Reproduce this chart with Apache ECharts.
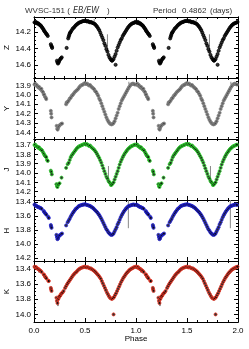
<!DOCTYPE html>
<html><head><meta charset="utf-8">
<script src="https://cdn.jsdelivr.net/npm/echarts@6/dist/echarts.min.js"></script>
<style>html,body{margin:0;padding:0;background:#fff}#c{width:249px;height:349px}</style>
</head><body><div id="c"></div>
<script>
// phase, magnitude (phase 0-1; the plot repeats each point at phase+1)
const zData=[[0.005,14.085],[0.012,14.09],[0.018,14.08],[0.025,14.095],[0.03,14.09],[0.038,14.1],[0.045,14.1],[0.05,14.11],[0.057,14.115],[0.063,14.12],[0.07,14.13],[0.075,14.14],[0.082,14.15],[0.09,14.165],[0.095,14.175],[0.1,14.19],[0.108,14.2],[0.115,14.215],[0.122,14.225],[0.128,14.235],[0.135,14.25],
[0.165,14.35],[0.17,14.37],[0.175,14.38],[0.178,14.395],
[0.225,14.55],[0.23,14.57],[0.235,14.585],[0.24,14.575],[0.245,14.56],[0.25,14.545],[0.258,14.53],[0.265,14.52],[0.272,14.51],
[0.32,14.395],[0.335,14.28],[0.34,14.26],[0.345,14.24],[0.35,14.22],[0.355,14.21],[0.36,14.2],[0.37,14.18],[0.38,14.16],[0.39,14.15],[0.4,14.135],[0.41,14.12],[0.42,14.11],[0.43,14.1],[0.44,14.09],[0.45,14.085],[0.46,14.08],[0.47,14.075],[0.48,14.07],[0.49,14.07],[0.5,14.065],[0.51,14.07],[0.52,14.075],[0.53,14.07],[0.54,14.08],[0.55,14.085],[0.56,14.08],[0.57,14.09],[0.58,14.095],[0.59,14.1],[0.6,14.11],[0.61,14.125],[0.62,14.14],[0.63,14.16],[0.64,14.18],[0.65,14.21],[0.66,14.24],[0.67,14.27],[0.68,14.3],[0.69,14.34],[0.7,14.37],[0.71,14.41],[0.72,14.44],[0.73,14.48],[0.74,14.51],[0.75,14.53],[0.76,14.545],[0.765,14.55],[0.77,14.545],[0.78,14.53],[0.79,14.5],[0.8,14.6],[0.8,14.47],[0.81,14.43],[0.82,14.39],[0.83,14.36],[0.84,14.33],[0.85,14.3],[0.86,14.28],[0.87,14.25],[0.88,14.23],[0.89,14.21],[0.9,14.19],[0.91,14.17],[0.92,14.15],[0.93,14.135],[0.94,14.12],[0.95,14.11],[0.96,14.1],[0.97,14.095],[0.98,14.09],[0.99,14.085],[0.995,14.08]];
const yData=[[0.005,13.89],[0.012,13.88],[0.02,13.9],[0.028,13.895],[0.035,13.91],[0.042,13.92],[0.05,13.915],[0.057,13.93],[0.065,13.94],[0.072,13.935],[0.08,13.96],[0.088,13.97],[0.095,13.99],[0.1,14.0],[0.108,14.02],[0.115,14.03],[0.12,14.045],
[0.165,14.17],[0.168,14.2],[0.172,14.24],
[0.222,14.33],[0.228,14.36],[0.232,14.37],[0.236,14.35],[0.24,14.34],[0.245,14.33],[0.255,14.32],[0.265,14.31],[0.275,14.305],
[0.315,14.1],[0.32,14.08],[0.33,14.075],[0.34,14.06],[0.35,14.04],[0.36,14.03],[0.37,14.01],[0.38,14.0],[0.39,13.985],[0.4,13.97],[0.41,13.96],[0.42,13.95],[0.43,13.94],[0.44,13.925],[0.45,13.91],[0.46,13.9],[0.47,13.895],[0.48,13.89],[0.49,13.88],[0.5,13.875],[0.51,13.885],[0.52,13.88],[0.53,13.89],[0.54,13.9],[0.55,13.895],[0.56,13.91],[0.57,13.92],[0.58,13.93],[0.59,13.94],[0.6,13.96],[0.61,13.97],[0.62,13.99],[0.63,14.01],[0.64,14.04],[0.65,14.06],[0.66,14.09],[0.67,14.12],[0.68,14.15],[0.69,14.18],[0.7,14.21],[0.71,14.24],[0.72,14.265],[0.73,14.285],[0.74,14.3],[0.75,14.31],[0.76,14.315],[0.77,14.31],[0.78,14.3],[0.79,14.28],[0.8,14.25],[0.81,14.22],[0.82,14.19],[0.83,14.15],[0.84,14.12],[0.85,14.09],[0.86,14.06],[0.87,14.04],[0.88,14.02],[0.89,14.0],[0.9,13.98],[0.91,13.96],[0.92,13.94],[0.93,13.92],[0.94,13.905],[0.95,13.89],[0.96,13.885],[0.97,13.88],[0.98,13.885],[0.99,13.89]];
const jData=[[0.005,13.7],[0.012,13.695],[0.02,13.71],[0.028,13.715],[0.035,13.72],[0.042,13.73],[0.05,13.725],[0.057,13.74],[0.065,13.745],[0.072,13.75],[0.08,13.76],[0.09,13.78],[0.097,13.795],[0.105,13.81],[0.112,13.82],[0.12,13.83],[0.128,13.86],[0.135,13.87],
[0.165,13.975],[0.17,13.99],[0.175,14.015],
[0.22,14.12],[0.225,14.14],[0.23,14.15],[0.235,14.13],[0.24,14.12],[0.25,14.11],
[0.27,14.05],[0.315,13.945],[0.33,13.905],[0.34,13.89],[0.35,13.86],[0.36,13.83],[0.37,13.81],[0.38,13.795],[0.39,13.78],[0.4,13.765],[0.41,13.75],[0.42,13.735],[0.43,13.725],[0.44,13.715],[0.45,13.71],[0.46,13.705],[0.47,13.7],[0.48,13.695],[0.49,13.69],[0.5,13.69],[0.51,13.695],[0.52,13.69],[0.53,13.7],[0.54,13.71],[0.55,13.705],[0.56,13.72],[0.57,13.73],[0.58,13.74],[0.59,13.75],[0.6,13.765],[0.61,13.78],[0.62,13.8],[0.63,13.82],[0.64,13.84],[0.65,13.865],[0.66,13.89],[0.67,13.92],[0.68,13.95],[0.69,13.98],[0.7,14.01],[0.71,14.04],[0.72,14.06],[0.73,14.085],[0.74,14.1],[0.75,14.115],[0.755,14.13],[0.76,14.125],[0.77,14.115],[0.78,14.1],[0.79,14.07],[0.8,14.04],[0.81,14.01],[0.82,13.98],[0.83,13.945],[0.84,13.91],[0.85,13.88],[0.86,13.855],[0.87,13.83],[0.88,13.81],[0.89,13.79],[0.9,13.775],[0.91,13.76],[0.92,13.745],[0.93,13.735],[0.94,13.725],[0.95,13.715],[0.96,13.71],[0.97,13.705],[0.98,13.7],[0.99,13.695]];
const hData=[[0.005,13.44],[0.012,13.45],[0.02,13.455],[0.028,13.465],[0.035,13.47],[0.042,13.475],[0.05,13.48],[0.058,13.485],[0.065,13.49],[0.075,13.5],[0.095,13.53],[0.1,13.545],[0.108,13.56],[0.115,13.57],[0.122,13.585],[0.14,13.615],[0.145,13.63],
[0.165,13.73],[0.168,13.75],[0.172,13.77],
[0.22,13.87],[0.225,13.9],[0.23,13.93],[0.235,13.92],[0.24,13.9],[0.245,13.88],[0.255,13.875],[0.265,13.86],[0.275,13.85],
[0.315,13.735],[0.33,13.69],[0.34,13.665],[0.35,13.64],[0.36,13.61],[0.37,13.585],[0.38,13.56],[0.39,13.54],[0.4,13.52],[0.41,13.5],[0.42,13.49],[0.43,13.475],[0.44,13.46],[0.45,13.455],[0.46,13.45],[0.47,13.445],[0.48,13.44],[0.49,13.44],[0.5,13.435],[0.51,13.44],[0.52,13.445],[0.53,13.45],[0.54,13.455],[0.55,13.46],[0.56,13.47],[0.57,13.48],[0.58,13.49],[0.59,13.505],[0.6,13.52],[0.61,13.535],[0.62,13.55],[0.63,13.57],[0.64,13.59],[0.65,13.615],[0.66,13.64],[0.67,13.67],[0.68,13.7],[0.69,13.73],[0.7,13.76],[0.71,13.79],[0.72,13.81],[0.73,13.835],[0.74,13.85],[0.75,13.865],[0.76,13.87],[0.77,13.865],[0.78,13.85],[0.79,13.82],[0.8,13.79],[0.81,13.76],[0.82,13.72],[0.83,13.69],[0.84,13.655],[0.85,13.62],[0.86,13.59],[0.87,13.565],[0.88,13.54],[0.89,13.52],[0.9,13.5],[0.91,13.485],[0.92,13.47],[0.93,13.46],[0.94,13.455],[0.95,13.45],[0.96,13.445],[0.97,13.44],[0.98,13.44],[0.99,13.445]];
const kData=[[0.005,13.37],[0.012,13.38],[0.02,13.375],[0.028,13.39],[0.035,13.395],[0.042,13.4],[0.05,13.41],[0.058,13.42],[0.065,13.425],[0.075,13.44],[0.095,13.47],[0.1,13.48],[0.108,13.5],[0.115,13.51],[0.122,13.525],[0.14,13.555],[0.145,13.56],
[0.165,13.65],[0.168,13.67],[0.172,13.69],
[0.22,13.78],[0.225,13.82],[0.23,13.85],[0.235,13.8],[0.24,13.79],[0.245,13.77],[0.25,13.76],[0.258,13.75],[0.265,13.73],[0.272,13.72],[0.28,13.71],[0.29,13.69],
[0.305,13.65],[0.315,13.625],[0.325,13.6],[0.335,13.58],[0.345,13.56],[0.355,13.54],[0.365,13.52],[0.375,13.5],[0.385,13.48],[0.395,13.465],[0.405,13.45],[0.415,13.44],[0.425,13.425],[0.435,13.41],[0.445,13.4],[0.455,13.39],[0.465,13.385],[0.475,13.38],[0.485,13.375],[0.495,13.37],[0.505,13.375],[0.515,13.38],[0.525,13.375],[0.535,13.385],[0.545,13.39],[0.555,13.395],[0.565,13.4],[0.575,13.41],[0.585,13.42],[0.595,13.43],[0.605,13.445],[0.615,13.46],[0.625,13.475],[0.635,13.49],[0.645,13.51],[0.655,13.53],[0.665,13.56],[0.675,13.59],[0.685,13.62],[0.695,13.65],[0.705,13.68],[0.715,13.71],[0.725,13.735],[0.735,13.76],[0.745,13.78],[0.755,13.79],[0.765,13.795],[0.775,13.785],[0.78,14.0],[0.785,13.77],[0.795,13.745],[0.805,13.72],[0.815,13.69],[0.825,13.66],[0.835,13.63],[0.845,13.6],[0.855,13.57],[0.865,13.545],[0.875,13.52],[0.885,13.5],[0.895,13.48],[0.905,13.46],[0.915,13.445],[0.925,13.43],[0.935,13.415],[0.945,13.405],[0.955,13.395],[0.965,13.39],[0.975,13.38],[0.985,13.375],[0.995,13.37]];
// error bars: phase, magnitude, half-length
const zErr=[[0.72,14.34,0.11],[0.59,14.06,0.015]];
const yErr=[[0.93,13.875,0.015]];
const jErr=[[0.73,14.0,0.075]];
const hErr=[[0.925,13.575,0.2]];
const kErr=[[0.235,13.85,0.04],[0.33,13.6,0.025],[0.05,13.43,0.02],[0.56,13.39,0.02],[0.61,13.45,0.02]];
// tick labels
const zTicks=[14.2,14.4,14.6];
const yTicks=[13.9,14.0,14.1,14.2,14.3,14.4];
const jTicks=[13.7,13.8,13.9,14.0,14.1,14.2];
const hTicks=[13.4,13.6,13.8,14.0,14.2];
const kTicks=[13.4,13.6,13.8,14.0];
const phaseTicks=[0,0.5,1,1.5,2];

const FONT='Liberation Sans';
const dup=a=>a.concat(a.map(p=>[p[0]+1].concat(p.slice(1))));
const bands=[
 {name:'Z',data:zData,err:zErr,ticks:zTicks,range:[14.02,14.76],minor:0.05,fill:'#000',ring:'#000',ecol:'#888'},
 {name:'Y',data:yData,err:yErr,ticks:yTicks,range:[13.82,14.47],minor:0.05,fill:'#444',ring:'#888',ecol:'#888'},
 {name:'J',data:jData,err:jErr,ticks:jTicks,range:[13.635,14.29],minor:0.05,fill:'#000',ring:'#2ed62e',ecol:'#888'},
 {name:'H',data:hData,err:hErr,ticks:hTicks,range:[13.375,14.24],minor:0.05,fill:'#000',ring:'#2424e0',ecol:'#888'},
 {name:'K',data:kData,err:kErr,ticks:kTicks,range:[13.295,14.10],minor:0.05,fill:'#000',ring:'#f03a28',ecol:'#333'}
];
const tops=[17,78,139,200,261];
const grids=[],xAxes=[],yAxes=[],series=[];
function minorVals(r,step,major){const out=[];const s=Math.ceil(r[0]/step-1e-6);for(let k=s;k*step<=r[1]+1e-9;k++){const v=+(k*step).toFixed(4);if(!major.some(m=>Math.abs(m-v)<1e-6))out.push(v);}return out;}
bands.forEach((b,i)=>{
 grids.push({left:34,right:11,top:tops[i],height:61,containLabel:false,outerBoundsMode:'none'});
 const last=i===bands.length-1;
 const xb=()=>({gridIndex:i,type:'value',min:0,max:2,interval:0.5,
   axisLine:{show:true,onZero:false,lineStyle:{color:'#000',width:1}},
   axisTick:{show:true,inside:true,length:4,lineStyle:{color:'#000',width:1}},
   minorTick:{show:true,splitNumber:5,length:2,lineStyle:{color:'#000',width:1}},
   splitLine:{show:false},minorSplitLine:{show:false}});
 xAxes.push(Object.assign(xb(),{position:'bottom',
   axisLabel:{show:last,customValues:phaseTicks,formatter:v=>v.toFixed(1),fontSize:8,fontFamily:FONT,color:'#000',margin:5},
   name:last?'Phase':'',nameLocation:'middle',nameGap:13,nameMoveOverlap:false,nameTextStyle:{fontSize:8,fontFamily:FONT,color:'#000'}}));
 xAxes.push(Object.assign(xb(),{position:'top',axisLabel:{show:false}}));
 const mv=minorVals(b.range,b.minor,b.ticks);
 const yb=(pos,vals,len)=>({gridIndex:i,type:'value',inverse:true,min:b.range[0],max:b.range[1],position:pos,
   axisLine:{show:true,onZero:false,lineStyle:{color:'#000',width:1}},
   axisTick:{show:true,inside:true,length:len,customValues:vals,lineStyle:{color:'#000',width:1}},
   axisLabel:{show:false},splitLine:{show:false}});
 const main=yb('left',b.ticks,4);
 main.axisLabel={show:true,customValues:b.ticks,formatter:v=>v.toFixed(1),fontSize:8,fontFamily:FONT,color:'#000',margin:3};
 main.name=b.name;main.nameLocation='middle';main.nameGap=23;main.nameRotate=90;main.nameMoveOverlap=false;
 main.nameTextStyle={fontSize:8,fontFamily:FONT,color:'#000'};
 const yi=yAxes.length;
 yAxes.push(main);
 yAxes.push(yb('left',mv,2));
 yAxes.push(yb('right',b.ticks,4));
 yAxes.push(yb('right',mv,2));
 series.push({type:'scatter',xAxisIndex:2*i,yAxisIndex:yi,data:dup(b.data),symbol:'circle',symbolSize:3.1,
   itemStyle:{color:b.fill,borderColor:b.ring,borderWidth:1},silent:true});
 const ec=b.ecol;
 series.push({type:'custom',xAxisIndex:2*i,yAxisIndex:yi,data:dup(b.err),silent:true,
   encode:{x:0,y:1},
   renderItem:(params,api)=>{const x=api.value(0),y=api.value(1),e=api.value(2);
     const p1=api.coord([x,y-e]),p2=api.coord([x,y+e]);
     return {type:'line',shape:{x1:p1[0],y1:p1[1],x2:p2[0],y2:p2[1]},style:{stroke:ec,lineWidth:1}};}});
});
const tstyle=(t,x,extra)=>({type:'text',x:x,y:11,style:Object.assign({text:t,fontSize:8,fontFamily:FONT,fill:'#333',textVerticalAlign:'middle'},extra||{})});
const chart=echarts.init(document.getElementById('c'),null,{renderer:'canvas'});
chart.setOption({animation:false,grid:grids,xAxis:xAxes,yAxis:yAxes,series:series,
 graphic:[tstyle('WVSC-151 (',25),tstyle('EB/EW',73,{fontStyle:'italic',fontSize:8,fontFamily:'DejaVu Sans'}),tstyle(')',107),
  tstyle('Period',153),tstyle('0.4862',182),tstyle('(days)',210)]});
</script></body></html>
